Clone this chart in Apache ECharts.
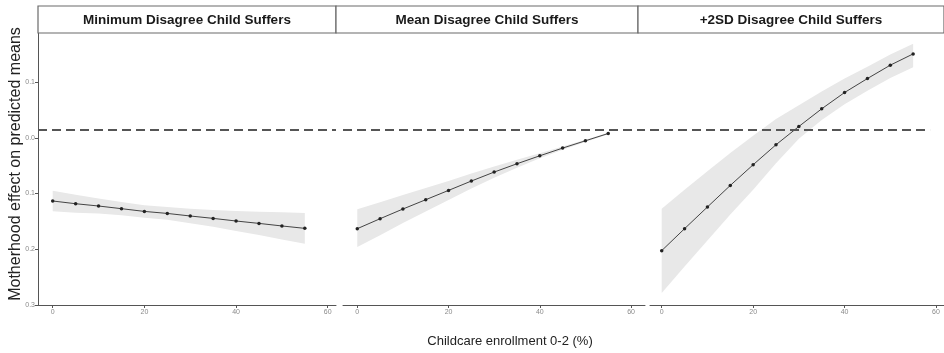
<!DOCTYPE html>
<html><head><meta charset="utf-8">
<script src="https://cdn.jsdelivr.net/npm/echarts@6/dist/echarts.min.js"></script>
<style>html,body{margin:0;padding:0;background:#fff}#c{width:944px;height:353px}</style>
</head><body><div id="c"></div>
<script>
// ---- data ----
const enrollment = [0, 5, 10, 15, 20, 25, 30, 35, 40, 45, 50, 55];
const panelTitles = ['Minimum Disagree Child Suffers', 'Mean Disagree Child Suffers', '+2SD Disagree Child Suffers'];

const minFit   = [-0.1134, -0.1183, -0.1224, -0.1272, -0.1321, -0.1357, -0.1403, -0.1446, -0.1493, -0.1536, -0.1582, -0.1625];
const minUpper = [-0.0949, -0.1023, -0.1089, -0.1152, -0.1209, -0.1242, -0.1273, -0.1296, -0.1313, -0.1326, -0.1337, -0.1350];
const minLower = [-0.1319, -0.1343, -0.1359, -0.1392, -0.1433, -0.1472, -0.1533, -0.1596, -0.1673, -0.1746, -0.1827, -0.1900];

const meanFit   = [-0.1631, -0.1452, -0.1278, -0.1111, -0.0944, -0.0776, -0.0615, -0.0466, -0.0323, -0.0185, -0.0054, 0.0077];
const meanUpper = [-0.1280, -0.1157, -0.1028, -0.0901, -0.0774, -0.0641, -0.0515, -0.0396, -0.0278, -0.0155, -0.0034, 0.0092];
const meanLower = [-0.1960, -0.1747, -0.1528, -0.1321, -0.1114, -0.0911, -0.0715, -0.0536, -0.0368, -0.0215, -0.0074, 0.0062];

const sdFit   = [-0.2025, -0.1631, -0.1242, -0.0855, -0.0484, -0.0125, 0.0203, 0.0520, 0.0812, 0.1063, 0.1303, 0.1505];
const sdUpper = [-0.1275, -0.0931, -0.0602, -0.0275, 0.0036, 0.0335, 0.0583, 0.0830, 0.1062, 0.1273, 0.1493, 0.1685];
const sdLower = [-0.2785, -0.2311, -0.1842, -0.1375, -0.0934, -0.0455, -0.0017, 0.0320, 0.0602, 0.0843, 0.1073, 0.1265];

const referenceLine = 0.0143;
const xTicks = [0, 20, 40, 60];
const yTicks = [-0.3, -0.2, -0.1, 0.0, 0.1];
const yTickLabels = ['0.3', '0.2', '0.1', '0.0', '0.1'];
const yTitle = 'Motherhood effect on predicted means';
const xTitle = 'Childcare enrollment 0-2 (%)';

// ---- layout ----
const panels = [
  {fit: minFit, up: minUpper, lo: minLower, left: 38, width: 298, xmin: -3.21, xmax: 61.8, refEnd: 61.8, strip: [38, 298]},
  {fit: meanFit, up: meanUpper, lo: meanLower, left: 343, width: 302, xmin: -3.13, xmax: 63.06, refEnd: 63.06, strip: [336, 302]},
  {fit: sdFit, up: sdUpper, lo: sdLower, left: 650, width: 294, xmin: -2.56, xmax: 61.75, refEnd: 58.7, strip: [638, 306]}
];
const TOP = 33, HEIGHT = 272;
const axisColor = '#555';
const labelColor = '#8a8a8a';

const grid = [], xAxis = [], yAxis = [], series = [], graphic = [];
panels.forEach((p, i) => {
  grid.push({left: p.left, width: p.width, top: TOP, height: HEIGHT, containLabel: false});
  xAxis.push({
    type: 'value', gridIndex: i, min: p.xmin, max: p.xmax,
    splitLine: {show: false},
    axisLine: {show: true, onZero: false, lineStyle: {color: axisColor, width: 1}},
    axisTick: {show: true, length: 3, customValues: xTicks, lineStyle: {color: axisColor}},
    axisLabel: {customValues: xTicks, fontSize: 7, color: labelColor, margin: 4, fontFamily: 'Liberation Sans'}
  });
  yAxis.push({
    type: 'value', gridIndex: i, min: -0.3, max: 0.188,
    splitLine: {show: false},
    axisLine: {show: i === 0, onZero: false, lineStyle: {color: axisColor, width: 1}},
    axisTick: {show: i === 0, length: 3, customValues: yTicks, lineStyle: {color: axisColor}},
    axisLabel: {show: i === 0, customValues: yTicks, fontSize: 7, color: labelColor, margin: 3, fontFamily: 'Liberation Sans',
      formatter: v => { const k = yTicks.findIndex(t => Math.abs(t - v) < 1e-6); return k >= 0 ? yTickLabels[k] : ''; }}
  });
  // confidence band as a polygon built through the axis scales
  series.push({
    type: 'custom', xAxisIndex: i, yAxisIndex: i, silent: true, z: 1,
    data: enrollment.map((x, k) => [x, p.lo[k], p.up[k]]),
    encode: {x: 0, y: [1, 2]},
    renderItem: (params, api) => {
      if (params.dataIndex !== 0) return null;
      const pts = [];
      enrollment.forEach((x, k) => pts.push(api.coord([x, p.up[k]])));
      for (let k = enrollment.length - 1; k >= 0; k--) pts.push(api.coord([enrollment[k], p.lo[k]]));
      return {type: 'polygon', shape: {points: pts}, style: {fill: '#e8e8e8'}};
    }
  });
  series.push({
    type: 'line', xAxisIndex: i, yAxisIndex: i, symbol: 'circle', symbolSize: 3.5,
    itemStyle: {color: '#222'}, lineStyle: {color: '#444', width: 1},
    data: enrollment.map((x, k) => [x, p.fit[k]]), z: 3,
    markLine: {
      silent: true, symbol: 'none', animation: false,
      lineStyle: {type: [9, 5], color: '#555', width: 2},
      label: {show: false},
      data: [[{coord: [p.xmin, referenceLine]}, {coord: [p.refEnd, referenceLine]}]]
    }
  });
  graphic.push({
    type: 'rect', shape: {x: p.strip[0], y: 6, width: p.strip[1], height: 27},
    style: {fill: '#fff', stroke: '#6a6a6a', lineWidth: 1.2}, z: 10
  });
  graphic.push({
    type: 'text', x: p.strip[0] + p.strip[1] / 2, y: 20, z: 11,
    style: {text: panelTitles[i], fill: '#1a1a1a', font: 'bold 13.5px "Liberation Sans", Arial', align: 'center', verticalAlign: 'middle'}
  });
});
graphic.push({
  type: 'text', x: 16, y: 164, rotation: Math.PI / 2, z: 11,
  style: {text: yTitle, fill: '#222', font: '16px "Liberation Sans", Arial', align: 'center', verticalAlign: 'middle'}
});
graphic.push({
  type: 'text', x: 510, y: 341, z: 11,
  style: {text: xTitle, fill: '#222', font: '13px "Liberation Sans", Arial', align: 'center', verticalAlign: 'middle'}
});

const chart = echarts.init(document.getElementById('c'), null, {renderer: 'canvas'});
chart.setOption({animation: false, backgroundColor: '#fff', grid, xAxis, yAxis, series, graphic});
</script></body></html>
